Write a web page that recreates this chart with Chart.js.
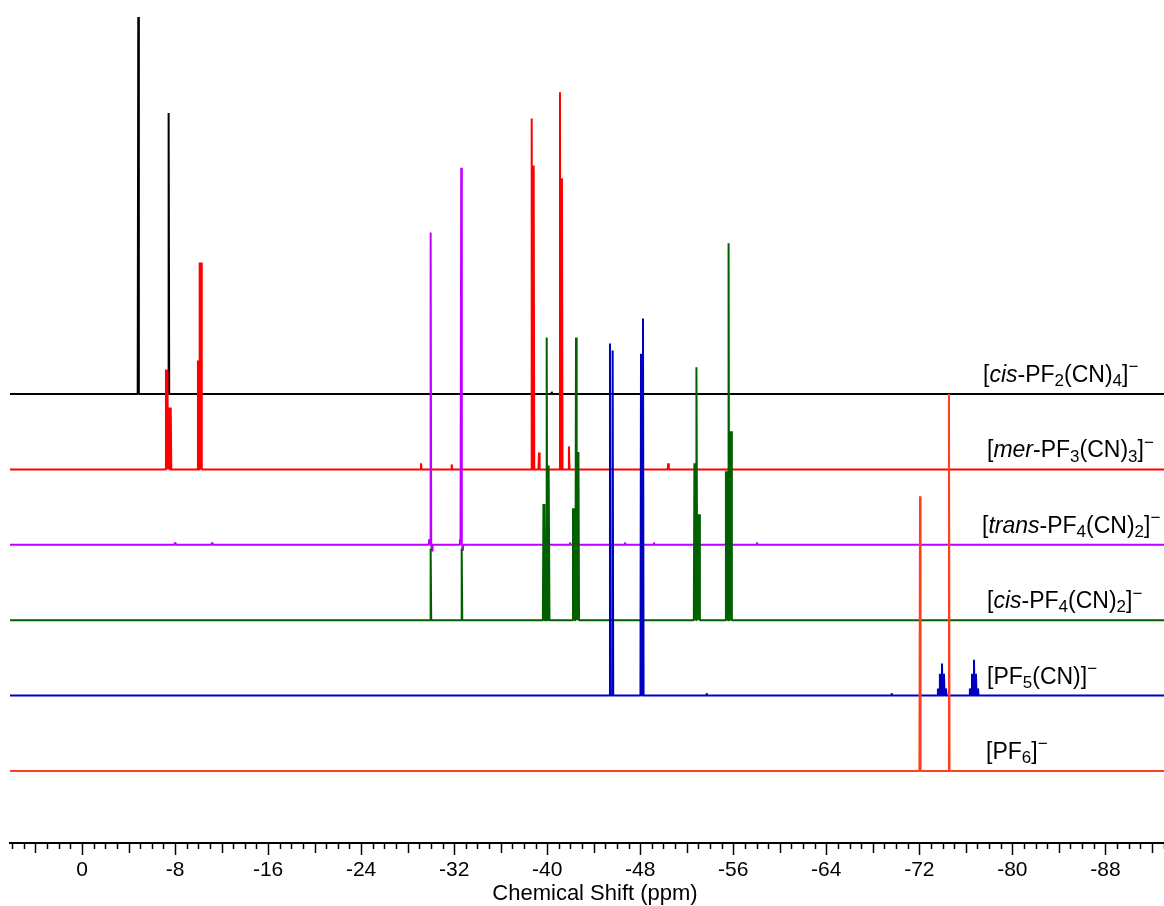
<!DOCTYPE html>
<html lang="en">
<head>
<meta charset="UTF-8">
<title>19F NMR stack</title>
<script src="https://cdn.jsdelivr.net/npm/chart.js"></script>
<style>
    body {
        margin: 0;
        background: #ffffff;
    }
    .chart-box {
        width: 1164px;
        height: 906px;
    }
</style>
</head>
<body>
<div class="chart-box">
    <canvas id="nmrChart"></canvas>
</div>
<script>
// chemical shift window (ppm), axis runs right-to-left
const shiftMax = 6.19;
const shiftMin = -93.04;

// species, top trace first
const speciesLabels = [
    '[<i>cis</i>-PF<sub>2</sub>(CN)<sub>4</sub>]<sup>\u2212</sup>',
    '[<i>mer</i>-PF<sub>3</sub>(CN)<sub>3</sub>]<sup>\u2212</sup>',
    '[<i>trans</i>-PF<sub>4</sub>(CN)<sub>2</sub>]<sup>\u2212</sup>',
    '[<i>cis</i>-PF<sub>4</sub>(CN)<sub>2</sub>]<sup>\u2212</sup>',
    '[PF<sub>5</sub>(CN)]<sup>\u2212</sup>',
    '[PF<sub>6</sub>]<sup>\u2212</sup>'
];
const traceOffsets = [100, 80, 60, 40, 20, 0];
const traceColors = ['#000000', '#ff0000', '#c000ff', '#006000', '#0000c0', '#ff4020'];

// peak lists: shift (ppm) and relative intensity (tallest = 100)
const shiftsCisPF2 = [-4.84, -7.45, -40.39];
const intensCisPF2 = [100, 74.5, 0.6];

const shiftsMerPF3 = [-7.22, -7.35, -7.51, -7.63, -9.97, -10.12, -10.25, -29.15, -31.79,
    -38.67, -38.84, -39.30, -41.10, -41.27, -41.87, -48.18, -50.41];
const intensMerPF3 = [26.5, 26.5, 16.4, 16.4, 28.9, 54.9, 54.9, 1.6, 1.3,
    93.1, 80.6, 4.5, 100, 77.2, 6.1, 1.3, 1.6];

const shiftsTransPF4 = [-8.0, -11.18, -29.86, -29.98, -30.1, -32.5, -32.61, -32.74,
    -41.96, -46.69, -49.18, -58.04];
const intensTransPF4 = [0.6, 0.6, 1.5, 82.8, -1.6, 1.5, 100, -1.6,
    0.6, 0.6, 0.6, 0.6];

const shiftsCisPF4 = [-29.98, -32.65,
    -39.68, -39.79, -39.96, -40.07, -40.15,
    -42.22, -42.33, -42.48, -42.59, -42.69,
    -52.66, -52.76, -52.86, -52.97, -53.08,
    -55.37, -55.48, -55.60, -55.72, -55.83];
const intensCisPF4 = [19, 19,
    30.8, 30.8, 75, 41, 41,
    29.7, 29.7, 75, 44.6, 44.6,
    41.6, 41.6, 67.1, 28.1, 28.1,
    39.5, 39.5, 100, 50.1, 50.1];

const shiftsPF5 = [-45.40, -45.63, -48.07, -48.24, -53.71, -69.62,
    -73.60, -73.77, -73.95, -74.12, -74.29,
    -76.35, -76.53, -76.70, -76.87, -77.04];
const intensPF5 = [93.4, 91.5, 90.7, 100, 0.6, 0.6,
    1.9, 5.8, 8.5, 5.8, 1.9,
    1.9, 5.8, 9.5, 5.8, 1.9];

const shiftsPF6 = [-72.06, -74.55];
const intensPF6 = [72.9, 100];

const peakShifts = [shiftsCisPF2, shiftsMerPF3, shiftsTransPF4, shiftsCisPF4, shiftsPF5, shiftsPF6];
const peakIntens = [intensCisPF2, intensMerPF3, intensTransPF4, intensCisPF4, intensPF5, intensPF6];

// x-axis tick labels every 8 ppm
const majorStep = 8;

const FONT = '"Liberation Sans", Arial, sans-serif';
const HALF = 0.05; // half width of a line, ppm

function buildTrace(shifts, intens, offset) {
    const peaks = shifts.map((s, i) => [s, intens[i]]).sort((a, b) => b[0] - a[0]);
    const pts = [{x: shiftMax, y: offset}];
    peaks.forEach(([s, h]) => {
        pts.push({x: s + HALF, y: offset});
        pts.push({x: s, y: offset + h});
        pts.push({x: s - HALF, y: offset});
    });
    pts.push({x: shiftMin, y: offset});
    return pts;
}

// bottom trace first so it is drawn on top
const datasets = [];
for (let i = speciesLabels.length - 1; i >= 0; i--) {
    datasets.push({
        label: speciesLabels[i],
        data: buildTrace(peakShifts[i], peakIntens[i], traceOffsets[i]),
        borderColor: traceColors[i],
        borderWidth: 2,
        borderJoinStyle: 'bevel',
        pointRadius: 0,
        tension: 0,
        fill: false
    });
}

function drawRich(ctx, markup, x, y, size) {
    const parts = markup.split(/(<i>.*?<\/i>|<sub>.*?<\/sub>|<sup>.*?<\/sup>)/).filter(Boolean);
    parts.forEach(p => {
        let txt = p, font = size + 'px ' + FONT, dy = 0, m;
        if ((m = p.match(/^<i>(.*)<\/i>$/))) {
            txt = m[1];
            font = 'italic ' + font;
        } else if ((m = p.match(/^<sub>(.*)<\/sub>$/))) {
            txt = m[1];
            font = Math.round(size * 0.72) + 'px ' + FONT;
            dy = size * 0.18;
        } else if ((m = p.match(/^<sup>(.*)<\/sup>$/))) {
            txt = m[1];
            font = Math.round(size * 0.72) + 'px ' + FONT;
            dy = -size * 0.42;
        }
        ctx.font = font;
        ctx.fillText(txt, x, y + dy);
        x += ctx.measureText(txt).width;
    });
}

const labelLeft = [983, 987, 982, 987, 987, 986];

const decorPlugin = {
    id: 'decor',
    afterDraw(chart) {
        const ctx = chart.ctx;
        const xs = chart.scales.x;
        const ys = chart.scales.y;
        ctx.save();
        // tick marks: minor 1 ppm, medium 4 ppm, major 8 ppm
        ctx.strokeStyle = '#000';
        ctx.lineWidth = 1.5;
        xs.ticks.forEach(t => {
            const v = Math.round(t.value);
            const len = v % majorStep === 0 ? 12 : (v % 4 === 0 ? 10 : 6);
            const px = Math.round(xs.getPixelForValue(v)) + 0.5;
            ctx.beginPath();
            ctx.moveTo(px, xs.top);
            ctx.lineTo(px, xs.top + len);
            ctx.stroke();
        });
        // axis title
        ctx.fillStyle = '#000';
        ctx.font = '22px ' + FONT;
        ctx.textAlign = 'center';
        ctx.textBaseline = 'middle';
        ctx.fillText('Chemical Shift (ppm)', 595, 894);
        // species labels
        ctx.textAlign = 'left';
        ctx.textBaseline = 'alphabetic';
        speciesLabels.forEach((lab, i) => {
            const y = ys.getPixelForValue(traceOffsets[i]) - 12;
            drawRich(ctx, lab, labelLeft[i], y, 23);
        });
        ctx.restore();
    }
};

new Chart(document.getElementById('nmrChart'), {
    type: 'line',
    data: {datasets: datasets},
    options: {
        responsive: true,
        maintainAspectRatio: false,
        devicePixelRatio: 1,
        animation: false,
        layout: {padding: {left: 10, right: 0, top: 0, bottom: 0}},
        plugins: {
            legend: {display: false},
            tooltip: {enabled: false}
        },
        scales: {
            x: {
                type: 'linear',
                reverse: true,
                min: shiftMin,
                max: shiftMax,
                afterFit(scale) {
                    scale.height = 63;
                    scale.paddingLeft = 0;
                    scale.paddingRight = 0;
                },
                grid: {display: false, drawTicks: false},
                border: {display: true, color: '#000', width: 2},
                ticks: {
                    stepSize: 1,
                    includeBounds: false,
                    autoSkip: false,
                    maxRotation: 0,
                    minRotation: 0,
                    padding: 15,
                    color: '#000',
                    font: {family: FONT, size: 21},
                    callback: v => (Math.round(v) % majorStep === 0 ? String(Math.round(v)) : '')
                }
            },
            y: {
                display: false,
                min: -19.1,
                max: 204.5
            }
        }
    },
    plugins: [decorPlugin]
});
</script>
</body>
</html>
